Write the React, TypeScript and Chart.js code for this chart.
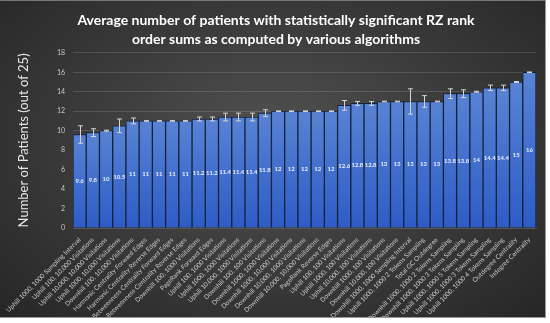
import React, { useEffect, useRef } from "react";
import { Chart, registerables } from "chart.js";

Chart.register(...registerables);

const titleLines = [
  "Average number of patients with statistically significant RZ rank",
  "order sums as computed by various algorithms",
];
const yAxisTitle = "Number of Patients (out of 25)";

const categories = [
  "Uphill 1000, 1000 Sampling Interval",
  "Uphill 100, 10,000 Visitations",
  "Uphill 10,000, 10,000 Visitations",
  "Uphill 1000, 10,000 Visitations",
  "Downhill 100, 10,000 Visitations",
  "Harmonic Centrality Forward Edges",
  "Harmonic Centrality Reverse Edges",
  "Betweenness Centrality Forward Edges",
  "Betweenness Centrality Reverse Edges",
  "Downhill 100, 1000 Visitations",
  "PageRank Forward Edges",
  "Uphill 100, 1000 Visitations",
  "Uphill 1000, 1000 Visitations",
  "Uphill 10,000, 1000 Visitations",
  "Downhill 100, 100 Visitations",
  "Downhill 1000, 1000 Visitations",
  "Downhill 1000, 10,000 Visitations",
  "Downhill 10,000, 1000 Visitations",
  "Downhill 10,000, 10,000 Visitations",
  "PageRank Reverse Edges",
  "Uphill 100, 100 Visitations",
  "Uphill 1000, 100 Visitations",
  "Uphill 10,000, 100 Visitations",
  "Downhill 1000, 100 Visitations",
  "Downhill 10,000, 100 Visitations",
  "Downhill 1000, 1000 Sampling Interval",
  "Uphill 1000, 1000 2 Tokens Sampling",
  "Total GC Outdegree",
  "Downhill 1000, 1000 2 Tokens Sampling",
  "Downhill 1000, 1000 3 Tokens Sampling",
  "Uphill 1000, 1000 5 Tokens Sampling",
  "Uphill 1000, 1000 3 Tokens Sampling",
  "Uphill 1000, 1000 4 Tokens Sampling",
  "Outdegree Centrality",
  "Indegree Centrality",
];

const values = [
  9.6, 9.8, 10, 10.5, 11, 11, 11, 11, 11, 11.2, 11.2, 11.4, 11.4, 11.4, 11.8,
  12, 12, 12, 12, 12, 12.6, 12.8, 12.8, 13, 13, 13, 13, 13, 13.8, 13.8, 14,
  14.4, 14.4, 15, 16,
];

const errors = [
  0.9, 0.4, 0.05, 0.7, 0.3, 0.03, 0.03, 0.03, 0.03, 0.2, 0.2, 0.4, 0.4, 0.4,
  0.35, 0.03, 0.03, 0.03, 0.03, 0.03, 0.5, 0.2, 0.2, 0.03, 0.03, 1.3, 0.6,
  0.03, 0.5, 0.4, 0.05, 0.28, 0.28, 0.05, 0.03,
];

const FONT = "Lato, 'Open Sans', sans-serif";

const errorBarPlugin = {
  id: "errorBars",
  afterDatasetsDraw(chart: any) {
    const meta = chart.getDatasetMeta(0);
    const y = chart.scales.y;
    const ctx = chart.ctx;
    ctx.save();
    ctx.strokeStyle = "#d4d4d4";
    ctx.lineWidth = 1;
    meta.data.forEach((bar: any, i: number) => {
      const v = values[i];
      const e = errors[i];
      const top = y.getPixelForValue(v + e);
      const bot = y.getPixelForValue(v - e);
      const x = Math.round(bar.x) + 0.5;
      ctx.beginPath();
      ctx.moveTo(x, top);
      ctx.lineTo(x, bot);
      ctx.moveTo(x - 2.5, top);
      ctx.lineTo(x + 2.5, top);
      ctx.moveTo(x - 2.5, bot);
      ctx.lineTo(x + 2.5, bot);
      ctx.stroke();
    });
    ctx.restore();
  },
};

const valueLabelPlugin = {
  id: "valueLabels",
  afterDatasetsDraw(chart: any) {
    const meta = chart.getDatasetMeta(0);
    const ctx = chart.ctx;
    ctx.save();
    ctx.fillStyle = "#e8eeff";
    ctx.font = `bold 6px ${FONT}`;
    ctx.textAlign = "center";
    ctx.textBaseline = "middle";
    meta.data.forEach((bar: any, i: number) => {
      const yMid = (bar.y + bar.base) / 2;
      ctx.fillText(String(values[i]), bar.x, yMid);
    });
    ctx.restore();
  },
};

export default function App() {
  const canvasRef = useRef<HTMLCanvasElement | null>(null);

  useEffect(() => {
    if (!canvasRef.current) return;
    const chart = new Chart(canvasRef.current, {
      type: "bar",
      data: {
        labels: categories,
        datasets: [
          {
            data: values,
            backgroundColor: (c: any) => {
              const ch = c.chart;
              const area = ch.chartArea;
              const ys = ch.scales && ch.scales.y;
              if (!area || !ys || c.dataIndex === undefined) return "#4472c4";
              const v = values[c.dataIndex];
              const top = ys.getPixelForValue(v);
              const base = ys.getPixelForValue(0);
              if (!isFinite(top) || !isFinite(base) || top === base) return "#4472c4";
              const g = ch.ctx.createLinearGradient(0, base, 0, top);
              g.addColorStop(0, "#2d5cc6");
              g.addColorStop(1, "#5883d4");
              return g;
            },
            borderColor: "#15223d",
            borderWidth: 1,
            barPercentage: 1,
            categoryPercentage: 1,
          },
        ],
      },
      options: {
        animation: false,
        responsive: true,
        maintainAspectRatio: false,
        layout: { padding: { left: 16, right: 9, top: 4, bottom: 0 } },
        plugins: {
          legend: { display: false },
          tooltip: { enabled: false },
          title: {
            display: true,
            text: titleLines,
            color: "#ffffff",
            font: { family: FONT, size: 14, weight: "bold", lineHeight: 1.35 },
            padding: { top: 6, bottom: 4 },
          },
        },
        scales: {
          x: {
            grid: { display: false },
            border: { display: true, color: "#555" },
            ticks: {
              color: "#c8c8c8",
              font: { family: FONT, size: 6.5 },
              maxRotation: 45,
              minRotation: 45,
              autoSkip: false,
              padding: 0,
            },
            afterFit: (s: any) => {
              s.height = 89;
            },
          },
          y: {
            min: 0,
            max: 18,
            ticks: {
              stepSize: 2,
              color: "#c8c8c8",
              font: { family: FONT, size: 7 },
              padding: 8,
            },
            grid: { color: "rgba(255,255,255,0.13)", drawTicks: false },
            border: { display: false },
            title: {
              display: true,
              text: yAxisTitle,
              color: "#e6e6e6",
              font: { family: FONT, size: 13 },
              padding: { top: 0, bottom: 14 },
            },
            afterFit: (s: any) => {
              s.width = 57;
            },
          },
        },
      },
      plugins: [errorBarPlugin, valueLabelPlugin],
    } as any);
    return () => chart.destroy();
  }, []);

  return (
    <div
      style={{
        position: "absolute",
        left: 0,
        top: 0,
        width: 546,
        height: 318,
        background:
          "radial-gradient(ellipse at 50% 45%, #535353 0%, #3d3d3d 45%, #262626 100%)",
        borderTop: "1px solid #777",
        borderRight: "1px solid #999",
        borderBottom: "1px solid #999",
        boxSizing: "border-box",
      }}
    >
      <canvas ref={canvasRef} />
    </div>
  );
}
